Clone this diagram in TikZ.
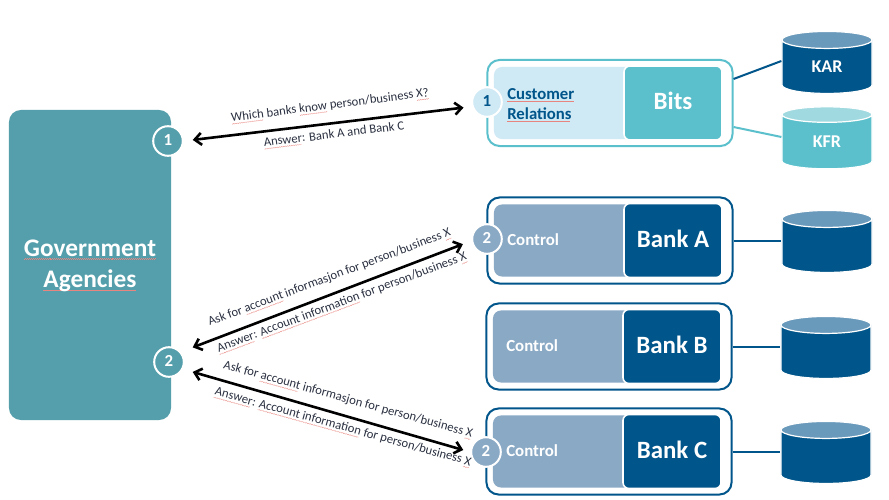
\documentclass[tikz,border=0pt]{standalone}
\usepackage{fontspec}
\setmainfont{Carlito}
\usepackage{xcolor}
\usepackage{tikz}
\usetikzlibrary{
  arrows.meta,
  positioning,
  shapes.geometric,
}
\definecolor{govteal}{HTML}{549FAB}
\definecolor{bankblue}{HTML}{00558A}
\definecolor{bankpale}{HTML}{8AA9C5}
\definecolor{banktop}{HTML}{6A9ABB}
\definecolor{bitsteal}{HTML}{5BC0CC}
\definecolor{bitspale}{HTML}{CFE9F5}
\definecolor{bitstop}{HTML}{A0DAE0}
\definecolor{msgink}{HTML}{2A3040}
\definecolor{spellred}{HTML}{E8857F}
\newcommand{\spell}[1]{\setbox0\hbox{#1}\rlap{\textcolor{spellred}{\hbox to\wd0{\leaders\hbox{\rule[-2pt]{0.7pt}{0.3pt}\rule[-1.7pt]{0.7pt}{0.3pt}}\hfill}}}\box0\relax}

\begin{document}
\begin{tikzpicture}[
    x=0.025cm, y=-0.025cm,
    govbox/.style={rectangle, rounded corners=0.3cm, fill=govteal,
                   minimum width=4.05cm, minimum height=7.75cm},
    framebox/.style={rectangle, rounded corners=0.3cm, draw=#1, line width=0.05cm,
                     fill=white, minimum width=6.125cm, minimum height=2.15cm},
    panelbox/.style={rectangle, rounded corners=0.2cm, fill=#1,
                     minimum width=3.65cm, minimum height=1.8cm},
    ownerbox/.style={rectangle, rounded corners=0.15cm, fill=#1, draw=white,
                     line width=0.04cm, text=white, font=\fontsize{17.7}{20}\selectfont\bfseries,
                     text height=12.5pt, text depth=2.9pt,
                     minimum width=2.45cm, minimum height=1.85cm},
    dbase/.style={cylinder, shape border rotate=90, aspect=0.55, draw=white,
                  line width=0.03cm, cylinder uses custom fill,
                  cylinder body fill=#1, text=white, inner sep=0pt,
                  font=\fontsize{12.8}{14}\selectfont\bfseries,
                  minimum width=2.25cm, minimum height=1.55cm},
    badge/.style={circle, draw=white, fill=#1, line width=0.05cm, inner sep=0pt,
                  text=white, font=\fontsize{12}{13}\selectfont\bfseries,
                  text height=8pt, text depth=2pt, minimum size=0.74cm},
    msg/.style={text=msgink, inner sep=0pt, font=\fontsize{9}{11}\selectfont},
    ctrltext/.style={anchor=west, inner sep=0pt, text=white,
                     font=\fontsize{12}{14}\selectfont\bfseries},
    flow/.style={{Straight Barb[length=1.7mm,width=3mm]}-{Straight Barb[length=1.7mm,width=3mm]},
                 black, line width=0.065cm},
    link/.style={draw=#1, line width=0.05cm},
  ]
  \useasboundingbox (0,0) rectangle (889,500);

  % government side
  \node[govbox] (gov) at (90,265) {};
  \node[text=white, align=center, font=\fontsize{18}{22}\selectfont\bfseries] (govtext) at (90,266)
    {\spell{Government}\\[0.5pt]\spell{Agencies}};
  \node[badge=govteal] (gov1) at (168,141) {1};
  \node[badge=govteal] (gov2) at (169,362) {2};

  % bits
  \node[framebox=bitsteal] (bitsframe) at (610,103) {};
  \node[panelbox=bitspale] (bitspanel) at (567,103) {};
  \node[ownerbox=bitsteal] (bits) at (673,103) {Bits};
  \node[anchor=west, inner sep=0pt, align=left, text=bankblue,
        font=\fontsize{11.9}{14.2}\selectfont\bfseries] (crel) at (507,105)
    {\spell{Customer}\\\spell{Relations}};
  \node[badge=bitspale, text=bankblue] (bits1) at (487,102) {1};

  % banks
  \node[framebox=bankblue] (frameA) at (610,240.5) {};
  \node[panelbox=bankpale] (panelA) at (567,240.5) {};
  \node[ownerbox=bankblue] (bankA) at (673,240.5) {Bank A};
  \node[ctrltext] (ctrlA) at (507,240) {Control};
  \node[badge=bankpale] (numA) at (487,239) {2};

  \node[framebox=bankblue] (frameB) at (609,346.5) {};
  \node[panelbox=bankpale] (panelB) at (566,346.5) {};
  \node[ownerbox=bankblue] (bankB) at (672,346.5) {Bank B};
  \node[ctrltext] (ctrlB) at (506,346) {Control};

  \node[framebox=bankblue] (frameC) at (609,451.5) {};
  \node[panelbox=bankpale] (panelC) at (566,451.5) {};
  \node[ownerbox=bankblue] (bankC) at (672,451.5) {Bank C};
  \node[ctrltext] (ctrlC) at (506,451) {Control};
  \node[badge=bankpale] (numC) at (486,452) {2};

  % registers and databases
  \node[dbase=bankblue, cylinder end fill=banktop] (kar) at (827,67) {KAR};
  \node[dbase=bitsteal, cylinder end fill=bitstop] (kfr) at (827,142) {KFR};
  \node[dbase=bankblue, cylinder end fill=banktop] (dbA) at (827,246) {\phantom{KAR}};
  \node[dbase=bankblue, cylinder end fill=banktop] (dbB) at (826,352) {\phantom{KAR}};
  \node[dbase=bankblue, cylinder end fill=banktop] (dbC) at (826,457) {\phantom{KAR}};

  \draw[link=bankblue] (bitsframe.11) -- ([yshift=0.15cm]kar.west);
  \draw[link=bitsteal] (bitsframe.-11) -- ([yshift=0.125cm]kfr.west);
  \draw[link=bankblue] (frameA.east) -- (frameA.east -| dbA.west);
  \draw[link=bankblue] (frameB.east) -- (frameB.east -| dbB.west);
  \draw[link=bankblue] (frameC.east) -- (frameC.east -| dbC.west);

  % requests and answers
  \draw[flow, shorten <=0.225cm, shorten >=0.21cm] (gov1.east) -- (bits1.197);
  \draw[flow, shorten <=0.31cm, shorten >=0.225cm] (gov2.40) -- (numA.187);
  \draw[flow, shorten <=0.25cm, shorten >=0.18cm] (gov2.-27) -- (numC.west);

  \node[msg, rotate=7.3] (ask1) at (330,106)
    {\spell{Which} banks \spell{know} person/business \spell{X?}};
  \node[msg, rotate=7] (ans1) at (334,135)
    {\spell{Answer}: Bank A and Bank C};
  \node[msg, rotate=20.5] (askA) at (329.5,278)
    {Ask for \spell{account} informasjon for person/business \spell{X}};
  \node[msg, rotate=20.5] (ansA) at (342,303)
    {\spell{Answer}: \spell{Account information} for person/business \spell{X}};
  \node[msg, rotate=-15.5] (askC) at (348,400)
    {Ask for \spell{account} informasjon for person/business \spell{X}};
  \node[msg, rotate=-15.5] (ansC) at (343,427.5)
    {\spell{Answer}: \spell{Account information} for person/business \spell{X}};
\end{tikzpicture}
\end{document}
